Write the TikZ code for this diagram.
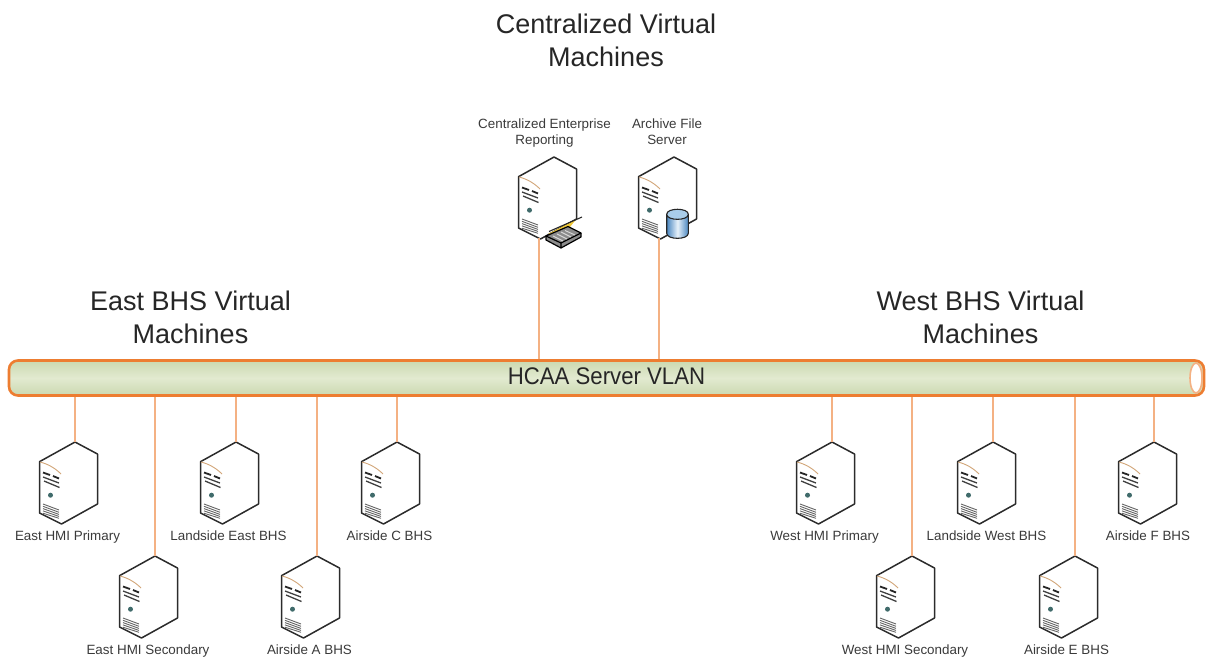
\documentclass[tikz,border=0pt]{standalone}
\usepackage{fontspec}
\setmainfont{Liberation Sans}
\definecolor{busedge}{HTML}{ED7D31}
\definecolor{linkc}{HTML}{F4B183}
\definecolor{txt}{HTML}{3A3A3A}
\definecolor{srvline}{HTML}{2B2B2B}
\definecolor{busedgecolor}{RGB}{203,217,176}
\definecolor{busmid}{RGB}{226,234,208}
\definecolor{cylside}{HTML}{4A86C0}
\definecolor{cylmid}{HTML}{E6F1FA}
\definecolor{cyltop}{HTML}{A9CDEA}
\definecolor{paper}{HTML}{EFC83A}
\tikzset{
  link/.style={draw=linkc,line width=1.6pt},
  small/.style={font=\fontsize{13.4}{16}\selectfont,text=txt,anchor=base,align=center,inner sep=0pt},
  title/.style={font=\fontsize{27}{33}\selectfont,text=black!85,anchor=base,align=center,inner sep=0pt},
  buslabel/.style={font=\fontsize{24}{28}\selectfont,text=black!85,inner sep=0pt},
  bus/.style={draw=busedge,line width=2.6pt,rounded corners=9pt,inner sep=0pt,
    top color=busedgecolor,bottom color=busedgecolor,middle color=busmid},
  pics/srv/.style={code={
    \coordinate (-port) at (0,0);
    \coordinate (-foot) at (-15,81);
    \draw[srvline,line width=1.5pt,line join=round,fill=white]
      (0,0)--(22.5,12)--(22.5,62)--(-13.5,82)--(-35.5,71)--(-35.5,19.7)--cycle;
    \draw[brown!70!white,line width=.9pt] (-35,20) .. controls (-27,22) and (-20,26) .. (-14,32);
    \draw[black!85,line width=1.8pt] (-32,30.5)--(-25,33) (-22,34)--(-16,36.5);
    \draw[black!75,line width=1.3pt] (-32,35)--(-16,41);
    \draw[black!75,line width=1.3pt] (-31,39)--(-15.5,45.5);
    \fill[teal!45!black!75] (-24.5,53.2) circle (2.5);
    \draw[black!60,line width=.9pt]
      (-32,62)--(-16,68) (-32,64.3)--(-16,70.3) (-32,66.6)--(-16,72.4)
      (-32,68.9)--(-16,74.4) (-32,71.2)--(-16,76.3);
  }},
  pics/scanner/.style={code={
    \fill[paper] (2,4)--(30,-10.5)--(24,-3)--(8,5)--cycle;
    \draw[black!85,line width=1.1pt] (3,1.5)--(36,-13);
    \fill[black!45] (0,6)--(22,-3.5)--(35,3)--(35,7)--(15,18)--(0,10)--cycle;
    \draw[black,line width=1.2pt,line join=round] (0,6)--(22,-3.5)--(35,3)--(15,13)--cycle;
    \draw[black,line width=1.2pt,line join=round] (0,6)--(0,10)--(15,18)--(35,7)--(35,3) (15,13)--(15,18);
    \draw[white!85!black,line width=.9pt] (7,6)--(17,11) (11,4)--(21,9) (15,2)--(25,7) (19,0.5)--(29,5);
  }},
  pics/dbcyl/.style={code={
    \path[left color=cylside,right color=cylside,middle color=cylmid]
      (-10.8,5) -- (-10.8,24) .. controls (-10.8,30.7) and (10.8,30.7) .. (10.8,24) -- (10.8,5)
      .. controls (10.8,-1.7) and (-10.8,-1.7) .. (-10.8,5) -- cycle;
    \fill[cyltop] (-10.8,5) .. controls (-10.8,-1.7) and (10.8,-1.7) .. (10.8,5)
      .. controls (10.8,11.7) and (-10.8,11.7) .. (-10.8,5) -- cycle;
    \draw[black!85,line width=1.1pt] (-10.8,5) -- (-10.8,24) .. controls (-10.8,30.7) and (10.8,30.7) .. (10.8,24) -- (10.8,5)
      .. controls (10.8,-1.7) and (-10.8,-1.7) .. (-10.8,5)
      .. controls (-10.8,11.7) and (10.8,11.7) .. (10.8,5);
  }}
}
\begin{document}
\begin{tikzpicture}[x=1pt,y=-1pt]
\useasboundingbox (0,0) rectangle (1212,662);
% bus
\node[bus,minimum width=1195pt,minimum height=35pt] (vlan) at (606.5,378) {};
\node[buslabel] (vlantext) at (606.5,376.5) {\scalebox{.925}[1]{HCAA Server VLAN}};
\coordinate (capc) at (1196,378);
\draw[linkc,line width=1.6pt,fill=white] (capc) ellipse (6 and 15);
% servers
\pic (c1) at (554,157) {srv};
\pic (c2) at (674,157) {srv};
\pic at (546,230) {scanner};
\pic at (677.5,209.3) {dbcyl};
\pic (e1) at (75,442) {srv};
\pic (e2) at (155,556) {srv};
\pic (e3) at (236,442) {srv};
\pic (e4) at (317,556) {srv};
\pic (e5) at (397,442) {srv};
\pic (w1) at (832,442) {srv};
\pic (w2) at (912,556) {srv};
\pic (w3) at (993,442) {srv};
\pic (w4) at (1075,556) {srv};
\pic (w5) at (1154,442) {srv};
% connectors
\foreach \s in {e1,e2,e3,e4,e5,w1,w2,w3,w4,w5}
  \draw[link] (\s-port) -- (\s-port |- vlan.south);
\draw[link] (c1-foot) -- (c1-foot |- vlan.north);
\draw[link] (c2-foot) -- (c2-foot |- vlan.north);
% titles
\node[title] (t1) at (606,66) {Centralized Virtual\\Machines};
\node[title] (t2) at (190.5,343) {East BHS Virtual\\Machines};
\node[title] (t3) at (980.5,343) {West BHS Virtual\\Machines};
% labels
\node[small] (l1) at (544.5,144.5) {Centralized Enterprise\\Reporting};
\node[small] (l2) at (667,144.5) {Archive File\\Server};
\node[small] (a1) at (67.5,540) {East HMI Primary};
\node[small] (a2) at (148,654) {East HMI Secondary};
\node[small] (a3) at (228.5,540) {Landside East BHS};
\node[small] (a4) at (309.5,654) {Airside A BHS};
\node[small] (a5) at (389.5,540) {Airside C BHS};
\node[small] (b1) at (824.5,540) {West HMI Primary};
\node[small] (b2) at (905,654) {West HMI Secondary};
\node[small] (b3) at (986.5,540) {Landside West BHS};
\node[small] (b4) at (1066.5,654) {Airside E BHS};
\node[small] (b5) at (1148,540) {Airside F BHS};
\end{tikzpicture}
\end{document}
